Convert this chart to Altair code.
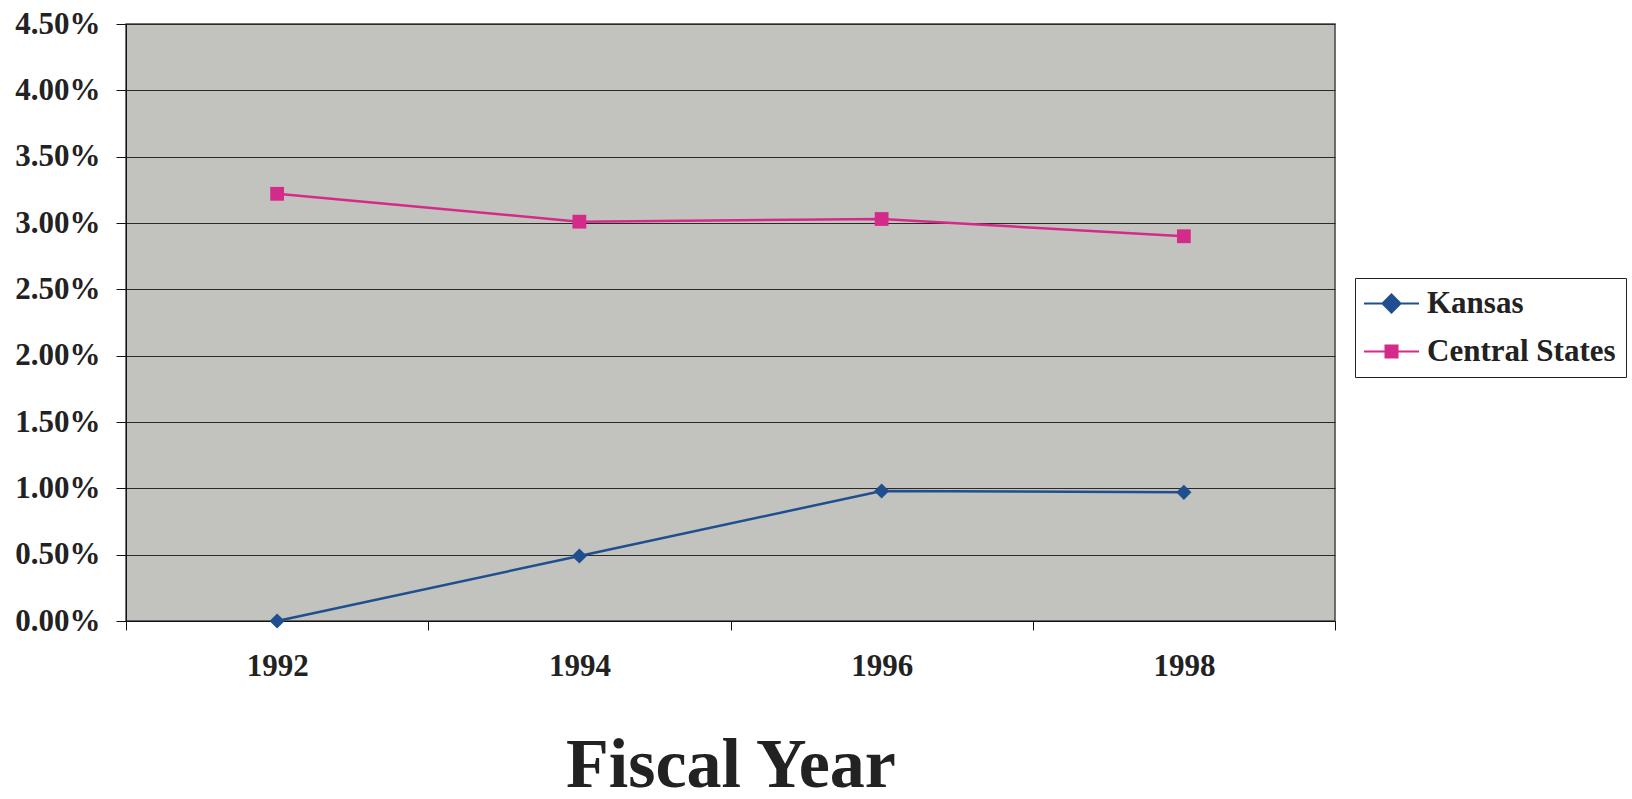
import altair as alt
import pandas as pd

# Fiscal years shown on the category axis
years = ["1992", "1994", "1996", "1998"]

# Series values (fractions, shown as percentages)
kansas = [0.0000, 0.0049, 0.0098, 0.0097]
central_states = [0.0322, 0.0301, 0.0303, 0.0290]

series_names = ["Kansas", "Central States"]
series_colors = ["#1f4f8f", "#d42a8a"]
series_shapes = ["diamond", "square"]
series_sizes = [230, 190]
y_ticks = [0.0, 0.005, 0.01, 0.015, 0.02, 0.025, 0.03, 0.035, 0.04, 0.045]

rows = []
for yr, k, c in zip(years, kansas, central_states):
    rows.append({"year": yr, "series": "Kansas", "value": k})
    rows.append({"year": yr, "series": "Central States", "value": c})
df = pd.DataFrame(rows)

FONT = "Liberation Serif"
W, H = 1209, 597
PAD = {"left": 126, "top": 24, "right": 1632 - 126 - W, "bottom": 799 - 24 - H}

x_enc = alt.X(
    "year:N",
    sort=years,
    scale=alt.Scale(type="band", paddingInner=0, paddingOuter=0),
    axis=alt.Axis(
        title="Fiscal Year",
        labelAngle=0,
        tickBand="extent",
        tickSize=9,
        tickColor="#111",
        domainColor="#111",
        labelPadding=21,
        labelFont=FONT,
        labelFontSize=31,
        labelFontWeight="bold",
        labelColor="#222",
        titleFont=FONT,
        titleFontSize=70,
        titleFontWeight="bold",
        titleColor="#222",
        titlePadding=50,
    ),
)

y_enc = alt.Y(
    "value:Q",
    scale=alt.Scale(domain=[0, 0.045], nice=False, zero=True),
    axis=alt.Axis(
        title=None,
        values=y_ticks,
        format=".2%",
        tickSize=10,
        tickColor="#111",
        domainColor="#111",
        grid=True,
        gridColor="#2a2a2a",
        gridWidth=1,
        labelPadding=16,
        labelFont=FONT,
        labelFontSize=31,
        labelFontWeight="bold",
        labelColor="#222",
    ),
)

# One line + marker layer per series, coloured directly
series_layers = []
for name, col, shp, sz in zip(series_names, series_colors, series_shapes, series_sizes):
    sub = alt.Chart(df).transform_filter(alt.datum.series == name)
    series_layers.append(sub.mark_line(color=col, strokeWidth=2.5).encode(x=x_enc, y=y_enc))
    series_layers.append(
        sub.mark_point(shape=shp, filled=True, size=sz, color=col, opacity=1).encode(x=x_enc, y=y_enc)
    )

# Legend: line-and-marker symbols as custom symbol paths, carried by an empty layer
legend_shapes = [
    "M-5.5,0H5.5M0,-1.8L1.8,0L0,1.8L-1.8,0Z",
    "M-5.5,0H5.5M-1.2,-1.2H1.2V1.2H-1.2Z",
]
legend_def = alt.Legend(
    title=None,
    orient="none",
    legendX=1229,
    legendY=254,
    labelFont=FONT,
    labelFontSize=31,
    labelFontWeight="bold",
    labelColor="#222",
    labelLimit=0,
    strokeColor="#222",
    fillColor="white",
    padding=10,
    rowPadding=16,
    symbolSize=100,
    symbolStrokeWidth=2,
    symbolOpacity=1,
    symbolOffset=11,
    labelOffset=20,
    cornerRadius=0,
)
legend_layer = (
    alt.Chart(df)
    .transform_filter("false")
    .mark_point(filled=True, size=100, strokeWidth=2, opacity=1)
    .encode(
        x=x_enc,
        y=y_enc,
        color=alt.Color("series:N", scale=alt.Scale(domain=series_names, range=series_colors), legend=legend_def),
        stroke=alt.Stroke("series:N", scale=alt.Scale(domain=series_names, range=series_colors), legend=legend_def),
        shape=alt.Shape("series:N", scale=alt.Scale(domain=series_names, range=legend_shapes), legend=legend_def),
    )
)

chart = (
    alt.layer(*series_layers, legend_layer)
    .properties(width=W, height=H, padding=PAD, autosize=alt.AutoSizeParams(type="none"), background="white")
    .configure_view(fill="#c2c3be", stroke="#444", strokeWidth=1.5)
)

chart.save("out.html", embed_options={"renderer": "svg", "actions": False})
